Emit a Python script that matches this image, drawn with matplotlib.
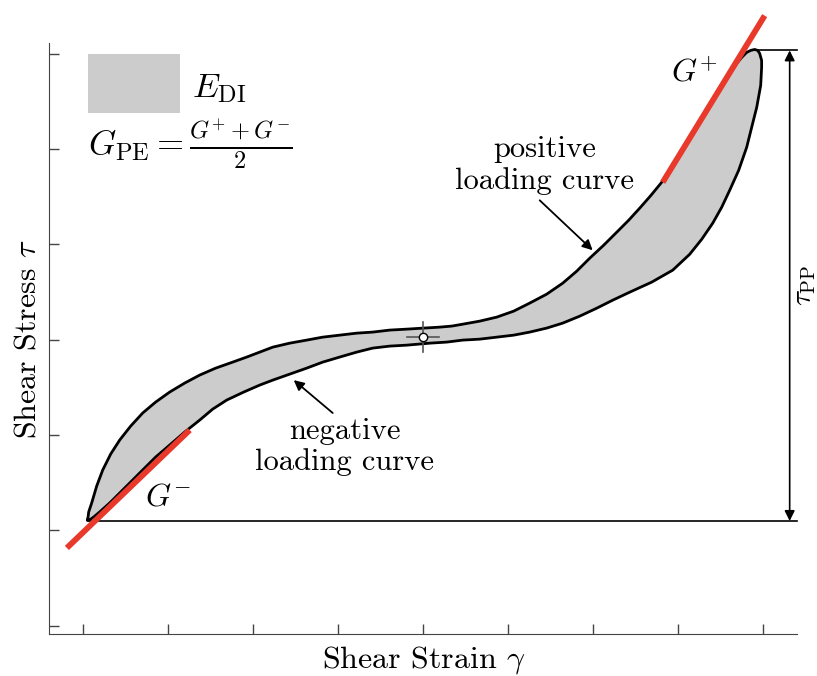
import matplotlib
matplotlib.use("Agg")
import matplotlib.pyplot as plt
from matplotlib.patches import Rectangle

plt.rcParams["font.family"] = ["cmr10", "DejaVu Serif"]
plt.rcParams["mathtext.fontset"] = "cm"
plt.rcParams["axes.unicode_minus"] = False

# positive loading curve (upper branch)
pos_x = [-3.945, -3.933, -3.898, -3.839, -3.768, -3.674, -3.568, -3.439, -3.298, -3.145,
         -2.980, -2.804, -2.627, -2.439, -2.239, -2.074, -1.921, -1.768, -1.568, -1.368,
         -1.180, -0.980, -0.780, -0.592, -0.392, -0.192, 0.008, 0.196, 0.338, 0.467,
         0.667, 0.867, 1.067, 1.255, 1.455, 1.643, 1.808, 1.961, 2.126, 2.279,
         2.420, 2.549, 2.678, 2.808, 2.914, 3.020, 3.220, 3.408, 3.561, 3.691,
         3.749, 3.808, 3.855, 3.902, 3.938, 3.961]
pos_y = [-1.892, -1.808, -1.714, -1.536, -1.368, -1.200, -1.053, -0.907, -0.770, -0.655,
         -0.550, -0.456, -0.372, -0.299, -0.236, -0.183, -0.131, -0.079, -0.037, -0.005,
         0.026, 0.047, 0.068, 0.079, 0.100, 0.110, 0.121, 0.131, 0.142, 0.162,
         0.194, 0.236, 0.299, 0.383, 0.477, 0.592, 0.718, 0.854, 0.991, 1.127,
         1.253, 1.379, 1.510, 1.651, 1.798, 1.955, 2.238, 2.510, 2.720, 2.898,
         2.961, 3.014, 3.035, 3.045, 3.035, 3.003]

# negative loading curve (lower branch)
neg_x = [3.984, 3.984, 3.973, 3.926, 3.867, 3.808, 3.714, 3.608, 3.514, 3.408,
         3.279, 3.138, 2.938, 2.690, 2.432, 2.232, 2.044, 1.843, 1.643, 1.455,
         1.255, 1.067, 0.867, 0.667, 0.467, 0.278, 0.079, -0.192, -0.392, -0.592,
         -0.780, -0.980, -1.180, -1.368, -1.568, -1.768, -1.921, -2.109, -2.309, -2.474,
         -2.627, -2.804, -2.980, -3.145, -3.298, -3.439, -3.568, -3.686, -3.804, -3.874,
         -3.921]
neg_y = [2.930, 2.856, 2.668, 2.437, 2.228, 2.018, 1.777, 1.567, 1.389, 1.221,
         1.053, 0.896, 0.729, 0.603, 0.498, 0.414, 0.330, 0.246, 0.173, 0.121,
         0.079, 0.047, 0.026, 0.005, -0.005, -0.026, -0.037, -0.058, -0.068, -0.089,
         -0.131, -0.183, -0.236, -0.299, -0.362, -0.425, -0.477, -0.550, -0.634, -0.729,
         -0.844, -0.970, -1.106, -1.232, -1.368, -1.494, -1.609, -1.714, -1.808, -1.861,
         -1.892]

g_plus = ([2.82, 4.02], [1.651, 3.40])
g_minus = ([-4.19, -2.745], [-2.186, -0.949])
center = (0.0, 0.03)
tau_min, tau_max = -1.903, 3.035

fig = plt.figure(figsize=(8.17, 6.76), dpi=100)
ax = fig.add_axes([0.060, 0.062, 0.9155, 0.874])
ax.set_xlim(-4.4, 4.4)
ax.set_ylim(-3.09, 3.11)

loop_x = pos_x + neg_x
loop_y = pos_y + neg_y
ax.fill(loop_x, loop_y, color="#cccccc", zorder=1)
ax.plot(loop_x + [pos_x[0]], loop_y + [pos_y[0]], color="black", lw=2.0,
        solid_joinstyle="round", zorder=2)

red = "#e8392a"
ax.plot(*g_plus, color=red, lw=4.2, solid_capstyle="butt", clip_on=False, zorder=3)
ax.plot(*g_minus, color=red, lw=4.2, solid_capstyle="butt", clip_on=False, zorder=3)

# centre marker
ax.plot([center[0] - 0.19, center[0] + 0.19], [center[1]] * 2, color="#555555", lw=1.2, zorder=4)
ax.plot([center[0]] * 2, [center[1] - 0.16, center[1] + 0.16], color="#555555", lw=1.2, zorder=4)
ax.plot(*center, "o", ms=6, mfc="white", mec="black", mew=1.0, zorder=5)

# peak-to-peak stress
ax.plot([pos_x[0], 4.4], [tau_min, tau_min], color="black", lw=1.2, clip_on=False)
ax.plot([3.91, 4.4], [tau_max, tau_max], color="black", lw=1.2, clip_on=False)
ax.annotate("", xy=(4.314, tau_max), xytext=(4.314, tau_min),
            arrowprops=dict(arrowstyle="<|-|>", color="black", lw=1.2,
                            mutation_scale=15, shrinkA=0, shrinkB=0),
            annotation_clip=False)
ax.text(4.495, 0.57, r"$\tau_{\mathrm{PP}}$", rotation=90, fontsize=21,
        ha="center", va="center", clip_on=False)

ax.text(3.196, 2.804, r"$G^{+}$", fontsize=23, ha="center", va="center")
ax.text(-3.0, -1.66, r"$G^{-}$", fontsize=23, ha="center", va="center")

ax.text(1.432, 1.829, "positive\nloading curve", ha="center", va="center",
        fontsize=22, linespacing=1.15)
ax.annotate("", xy=(1.996, 0.938), xytext=(1.373, 1.462),
            arrowprops=dict(arrowstyle="-|>", color="black", lw=1.3,
                            mutation_scale=15, shrinkA=0, shrinkB=0))
ax.text(-0.921, -1.127, "negative\nloading curve", ha="center", va="center",
        fontsize=22, linespacing=1.15)
ax.annotate("", xy=(-1.521, -0.425), xytext=(-1.062, -0.770),
            arrowprops=dict(arrowstyle="-|>", color="black", lw=1.3,
                            mutation_scale=15, shrinkA=0, shrinkB=0))

# legend box
ax.add_patch(Rectangle((-3.946, 2.374), 1.084, 0.619, color="#cccccc", lw=0))
ax.text(-2.72, 2.636, r"$E_{\mathrm{DI}}$", fontsize=25, va="center", ha="left")
ax.text(-3.946, 2.039, r"$G_{\mathrm{PE}} = \frac{G^{+}+G^{-}}{2}$", fontsize=25,
        va="center", ha="left")

ax.set_xticks(range(-4, 5))
ax.set_yticks(range(-3, 4))
ax.set_xticklabels([])
ax.set_yticklabels([])
ax.tick_params(direction="in", length=7, width=1, color="#444444")
for side in ["top", "right"]:
    ax.spines[side].set_visible(False)
for side in ["left", "bottom"]:
    ax.spines[side].set_color("#444444")

fig.text(0.519, 0.024, r"Shear Strain $\gamma$", fontsize=23, ha="center", va="center")
fig.text(0.034, 0.499, r"Shear Stress $\tau$", fontsize=23, ha="center", va="center",
         rotation=90)

fig.savefig("out.png", dpi=100)
